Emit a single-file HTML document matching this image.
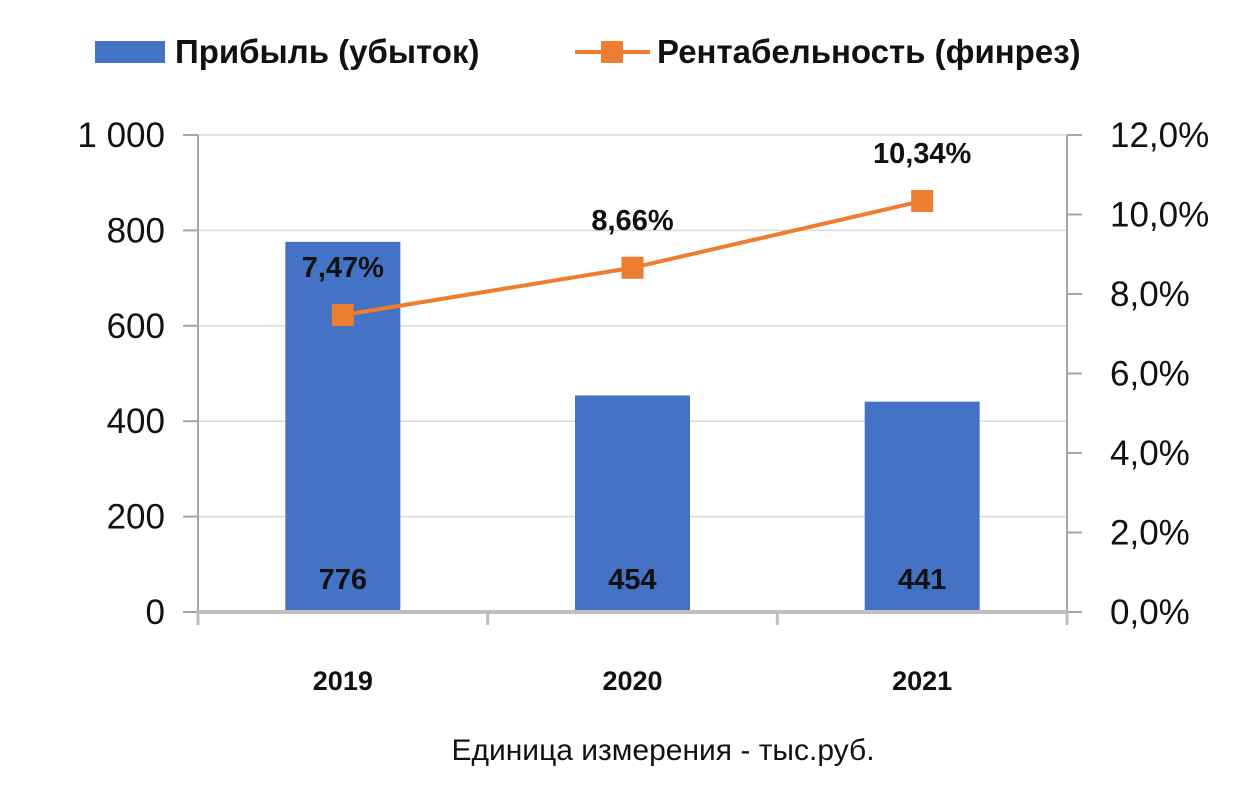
<!DOCTYPE html>
<html><head><meta charset="utf-8"><style>
html,body{margin:0;padding:0;background:#fff;}
svg{display:block;font-family:"Liberation Sans","DejaVu Sans",sans-serif;}
</style></head><body>
<svg id="chart" width="1240" height="797" viewBox="0 0 1240 797" xmlns="http://www.w3.org/2000/svg">
<g>
  <rect x="95" y="41" width="70" height="22" fill="#4472c4"/>
  <text x="175" y="63" font-size="33" font-weight="bold" fill="#111">Прибыль (убыток)</text>
  <line x1="575" y1="52" x2="650" y2="52" stroke="#ed7d31" stroke-width="4"/>
  <rect x="601" y="41" width="22" height="22" fill="#ed7d31"/>
  <text x="657" y="63" font-size="33" font-weight="bold" fill="#111">Рентабельность (финрез)</text>
</g>
<g id="grid"></g>
<g id="bars"></g>
<g id="axes"></g>
<g id="line"></g>
<g id="labels"></g>
<text x="663" y="760" font-size="30" text-anchor="middle" fill="#111">Единица измерения - тыс.руб.</text>
</svg>
<script>
const categories = ["2019","2020","2021"];
const profit = [776, 454, 441];
const rent = [7.47, 8.66, 10.34];
const rentLabels = ["7,47%","8,66%","10,34%"];
const leftTicks = [0,200,400,600,800,1000];
const leftTickLabels = ["0","200","400","600","800","1 000"];
const rightTicks = [0,2,4,6,8,10,12];
const rightTickLabels = ["0,0%","2,0%","4,0%","6,0%","8,0%","10,0%","12,0%"];

const NS="http://www.w3.org/2000/svg";
const X0=198, X1=1067, Y0=612, Y1=135;
const yL=v=>Y0-(v/1000)*(Y0-Y1);
const yR=v=>Y0-(v/12)*(Y0-Y1);
const band=(X1-X0)/categories.length;
const xC=i=>X0+band*(i+0.5);
function mk(tag,attrs,parent,txt){const e=document.createElementNS(NS,tag);for(const k in attrs)e.setAttribute(k,attrs[k]);if(txt!==undefined)e.textContent=txt;document.getElementById(parent).appendChild(e);return e;}

leftTicks.forEach((t,i)=>{
  if(t>0){const g=mk('line',{x1:X0,x2:X1,y1:yL(t),y2:yL(t),stroke:'#d9d9d9','stroke-width':1.5},'grid');
  
  }
  const tk=mk('line',{x1:X0-15,x2:X0,y1:yL(t),y2:yL(t),stroke:'#a6a6a6','stroke-width':2},'axes');
  
  
  const lb=mk('text',{x:165,y:yL(t)+12,'font-size':35,'text-anchor':'end',fill:'#111'},'axes',leftTickLabels[i]);
  
  
});
rightTicks.forEach((t,i)=>{
  const tk=mk('line',{x1:X1,x2:X1+15,y1:yR(t),y2:yR(t),stroke:'#a6a6a6','stroke-width':2},'axes');
  
  
  const lb=mk('text',{x:1110,y:yR(t)+12,'font-size':35,fill:'#111'},'axes',rightTickLabels[i]);
  
  
});
let a=mk('line',{x1:X0,x2:X0,y1:Y1,y2:Y0,stroke:'#a6a6a6','stroke-width':2},'axes');


a=mk('line',{x1:X1,x2:X1,y1:Y1,y2:Y0,stroke:'#a6a6a6','stroke-width':2},'axes');



const bw=115;
categories.forEach((c,i)=>{
  const b=mk('rect',{x:xC(i)-bw/2,y:yL(profit[i]),width:bw,height:Y0-yL(profit[i]),fill:'#4472c4'},'bars');
  
  
  const v=mk('text',{x:xC(i),y:Y0-23,'font-size':29,'font-weight':'bold','text-anchor':'middle',fill:'#111'},'labels',String(profit[i]));
  
  
  const cl=mk('text',{x:xC(i),y:690,'font-size':27,'font-weight':'bold','text-anchor':'middle',fill:'#111'},'labels',c);
  
  
});
for(let i=0;i<=categories.length;i++){
  const t=mk('line',{x1:X0+band*i,x2:X0+band*i,y1:Y0,y2:Y0+13,stroke:'#bfbfbf','stroke-width':3},'axes');
  
  
}
a=mk('line',{x1:X0,x2:X1,y1:Y0,y2:Y0,stroke:'#bfbfbf','stroke-width':4},'axes');



const pts=rent.map((v,i)=>xC(i)+','+yR(v)).join(' ');
const pl=mk('polyline',{points:pts,fill:'none',stroke:'#ed7d31','stroke-width':4},'line');


rent.forEach((v,i)=>{
  const m=mk('rect',{x:xC(i)-11,y:yR(v)-11,width:22,height:22,fill:'#ed7d31'},'line');
  
  
  const l=mk('text',{x:xC(i),y:yR(v)-38,'font-size':29,'font-weight':'bold','text-anchor':'middle',fill:'#111'},'labels',rentLabels[i]);
  
  
});
</script>
</body></html>
